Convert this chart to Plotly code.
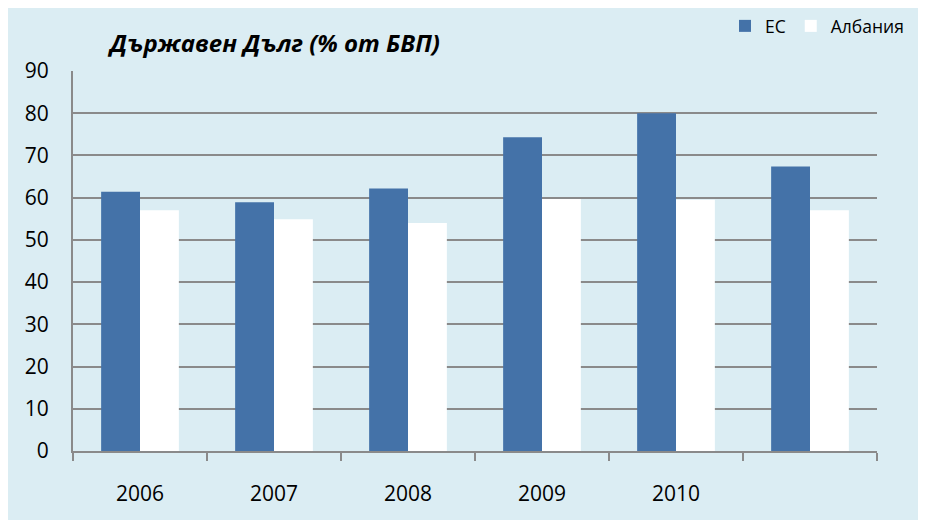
import plotly.graph_objects as go

# Public debt, % of GDP
years = ["2006", "2007", "2008", "2009", "2010", " "]
eu_debt = [61.4, 58.9, 62.2, 74.3, 80.0, 67.4]
albania_debt = [57.0, 54.9, 54.0, 59.7, 59.5, 57.0]

BG = "#DBEDF3"
GRID = "#8A8A8A"
FONT = "Open Sans"

fig = go.Figure()

fig.add_trace(go.Bar(
    x=years, y=eu_debt, name="EC",
    marker=dict(color="#4472A8", line=dict(width=0)),
))
fig.add_trace(go.Bar(
    x=years, y=albania_debt, name="Албания",
    marker=dict(color="#FFFFFF", line=dict(width=0)),
))

# the page body adds an 8px white margin, so the figure is a bit smaller
W, H = 918, 512
L, R, T, B = 65, 49, 63, 69
pw, ph = W - L - R, H - T - B

def px_x(p):
    return (p - L) / pw

fig.update_layout(
    width=W, height=H,
    margin=dict(l=L, r=R, t=T, b=B),
    paper_bgcolor=BG,
    plot_bgcolor=BG,
    barmode="group",
    bargap=0.42,
    bargroupgap=0,
    font=dict(family=FONT, size=21, color="#000000"),
    title=dict(
        text="<b><i>Държавен Дълг (% от БВП)</i></b>",
        x=267 / W, xanchor="center", xref="container",
        y=1 - 36 / H, yanchor="middle", yref="container",
        font=dict(family=FONT, size=24, color="#000000"),
    ),
    # legend sits in the top margin; y=1 keeps it from pushing the plot area
    legend=dict(
        orientation="h",
        x=px_x(901), xanchor="right",
        yref="container", y=1, yanchor="top",
        bgcolor="rgba(0,0,0,0)",
        font=dict(family=FONT, size=17.5),
        traceorder="normal",
    ),
    showlegend=True,
    xaxis=dict(
        type="category",
        showgrid=False,
        showline=True, linecolor=GRID, linewidth=2,
        ticks="outside", tickson="boundaries", ticklen=8, tickwidth=2, tickcolor=GRID,
        ticklabelstandoff=23,
        tickfont=dict(size=21),
    ),
    yaxis=dict(
        range=[0, 90], dtick=10,
        showgrid=True, gridcolor=GRID, gridwidth=1.5,
        showline=True, linecolor=GRID, linewidth=2,
        zeroline=False,
        ticks="", ticklabelstandoff=18,
        tickfont=dict(size=21),
    ),
)

fig.write_html("out.html")
